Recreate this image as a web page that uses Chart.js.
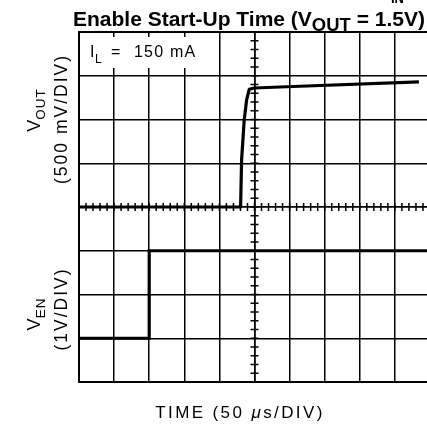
<!DOCTYPE html>
<html><head><meta charset="utf-8">
<script src="https://cdn.jsdelivr.net/npm/chart.js@4"></script>
<style>html,body{margin:0;padding:0;overflow:hidden;background:#fff}canvas{display:block}</style>
</head><body><canvas id="c" width="432" height="427"></canvas>
<script>
// Time axis: microseconds (50 us / DIV), 10 divisions
const xMin = 0, xMax = 500, xStep = 50;
// Vertical axis in divisions, 8 divisions, centre = 0
const yMin = -4, yMax = 4, yStep = 1;
// V_OUT trace (time in us, level in divisions)
const voutTime = [0, 230.2, 231.6, 235.3, 238.8, 242.5, 249.6, 314.5, 484.3];
const voutDiv  = [0, 0, 1.07, 1.98, 2.45, 2.69, 2.72, 2.76, 2.86];
// V_EN trace
const venTime = [0, 100, 100, 500];
const venDiv  = [-3, -3, -1, -1];

const toPts = (xs, ys) => xs.map((x, i) => ({x, y: ys[i]}));

function drawText(ctx, s, x, y, font, ls) {
  ctx.font = font; ctx.letterSpacing = (ls || 0) + 'px'; ctx.fillText(s, x, y);
  const w = ctx.measureText(s).width; ctx.letterSpacing = '0px'; return w;
}
function measure(ctx, s, font, ls) {
  ctx.font = font; ctx.letterSpacing = (ls || 0) + 'px';
  const w = ctx.measureText(s).width; ctx.letterSpacing = '0px'; return w;
}

const scopePlugin = {
  id: 'scope',
  beforeDatasetsDraw(chart) {
    const ctx = chart.ctx, xs = chart.scales.x, ys = chart.scales.y;
    ctx.save();
    ctx.strokeStyle = '#000'; ctx.lineWidth = 1.5;
    const y0 = ys.getPixelForValue(0), xc = xs.getPixelForValue(250);
    ctx.beginPath();
    for (let t = xMin; t <= xMax; t += xStep / 5) {
      const px = xs.getPixelForValue(t);
      ctx.moveTo(px, y0 - 4); ctx.lineTo(px, y0 + 4);
    }
    for (let v = yMin; v <= yMax + 1e-9; v += yStep / 5) {
      const py = ys.getPixelForValue(v);
      ctx.moveTo(xc - 4, py); ctx.lineTo(xc + 4, py);
    }
    ctx.stroke();
    // label box
    ctx.fillStyle = '#fff';
    ctx.fillRect(xs.left + 2, ys.top + 5, 116, 31);
    ctx.fillStyle = '#000';
    ctx.textBaseline = 'alphabetic'; ctx.textAlign = 'left';
    drawText(ctx, 'I', 90, 57, '16px "Liberation Sans"');
    drawText(ctx, 'L', 95, 63, '12px "Liberation Sans"');
    drawText(ctx, '=', 111, 57, '16px "Liberation Sans"');
    drawText(ctx, '150 mA', 134, 57, '16px "Liberation Sans"', 1.2);
    ctx.restore();
  },
  afterDraw(chart) {
    const ctx = chart.ctx;
    ctx.save();
    ctx.fillStyle = '#000'; ctx.textAlign = 'left'; ctx.textBaseline = 'alphabetic';
    // title (auto-fit to span 73..425)
    const parts = ['Enable Start-Up Time (V', 'OUT', ' = 1.5V)'];
    const subR = 0.88;
    let f = 18;
    let w = measure(ctx, parts[0], `bold ${f}px "Liberation Sans"`) + measure(ctx, parts[2], `bold ${f}px "Liberation Sans"`)
          + measure(ctx, parts[1], `bold ${f*subR}px "Liberation Sans"`);
    f = f * 352 / w;
    let x = 73;
    x += drawText(ctx, parts[0], x, 26, `bold ${f}px "Liberation Sans"`);
    x += drawText(ctx, parts[1], x, 31, `bold ${f*subR}px "Liberation Sans"`);
    drawText(ctx, parts[2], x, 26, `bold ${f}px "Liberation Sans"`);
    // cut-off fragment from line above
    drawText(ctx, 'IN', 391, 3, 'bold 13px "Liberation Sans"');
    // x label
    const fA = '17px "Liberation Sans"', fMu = 'italic 17px "Liberation Sans"', ls = 2.4;
    const sA = 'TIME (50 ', sMu = '\u03BC', sB = 's/DIV)';
    const tw = measure(ctx, sA, fA, ls) + measure(ctx, sMu, fMu, ls) + measure(ctx, sB, fA, ls);
    let tx = 240 - tw / 2;
    tx += drawText(ctx, sA, tx, 418, fA, ls);
    tx += drawText(ctx, sMu, tx, 418, fMu, ls);
    drawText(ctx, sB, tx, 418, fA, ls);
    // y labels (rotated)
    const rot = (cx, cy, fn) => { ctx.save(); ctx.translate(cx, cy); ctx.rotate(-Math.PI/2); fn(); ctx.restore(); };
    rot(67, 119, () => { ctx.textAlign = 'center'; drawText(ctx, '(500 mV/DIV)', 0, 0, '17.5px "Liberation Sans"', 2.0); });
    rot(67, 309, () => { ctx.textAlign = 'center'; drawText(ctx, '(1V/DIV)', 0, 0, '17.5px "Liberation Sans"', 2.0); });
    const sub = (cy, main, subs, cxm, off) => rot(cxm, cy, () => {
      ctx.textAlign = 'left';
      const a = '18px "Liberation Sans"', b = '13.5px "Liberation Sans"';
      const wa = measure(ctx, main, a), wb = measure(ctx, subs, b, 1);
      let s = -(wa + wb) / 2;
      s += drawText(ctx, main, s, 0, a);
      drawText(ctx, subs, s, off, b, 1);
    });
    sub(110, 'V', 'OUT', 40, 5);
    sub(314, 'V', 'EN', 40, 5);
    ctx.restore();
  }
};

const gridW = (ctx, n) => (ctx.index === 0 || ctx.index === n) ? 2 : (ctx.index === n / 2 ? 1.8 : 1.5);

new Chart(document.getElementById('c'), {
  type: 'line',
  data: {
    datasets: [
      { label: 'VOUT', data: toPts(voutTime, voutDiv), borderColor: '#000', borderWidth: 3.2, pointRadius: 0, tension: 0, fill: false, borderJoinStyle: 'round' },
      { label: 'VEN', data: toPts(venTime, venDiv), borderColor: '#000', borderWidth: 3.2, pointRadius: 0, tension: 0, fill: false, borderJoinStyle: 'miter' }
    ]
  },
  options: {
    responsive: false, devicePixelRatio: 1, animation: false,
    layout: { padding: { left: 79, top: 32, right: 2, bottom: 45 } },
    plugins: { legend: { display: false }, tooltip: { enabled: false } },
    scales: {
      x: { type: 'linear', min: xMin, max: xMax,
           ticks: { display: false, stepSize: xStep },
           grid: { color: '#000', lineWidth: c => gridW(c, 10), drawTicks: false },
           border: { display: true, color: '#000', width: 2 } },
      y: { type: 'linear', min: yMin, max: yMax,
           ticks: { display: false, stepSize: yStep },
           grid: { color: '#000', lineWidth: c => gridW(c, 8), drawTicks: false },
           border: { display: true, color: '#000', width: 2 } }
    }
  },
  plugins: [scopePlugin]
});
</script>
</body></html>
